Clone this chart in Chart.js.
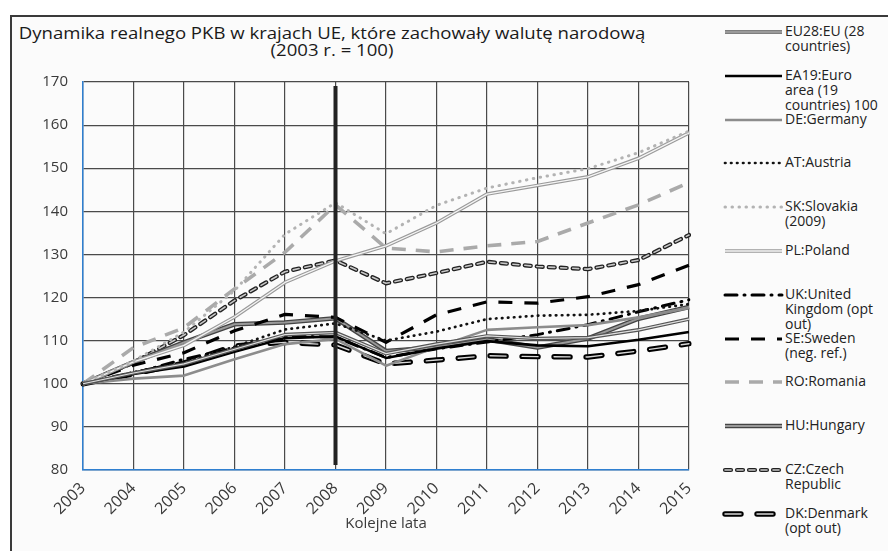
<!DOCTYPE html>
<html>
<head>
<meta charset="utf-8">
<script src="https://cdn.jsdelivr.net/npm/chart.js@4"></script>
<style>
  body{margin:0;background:#fff;width:888px;height:551px;overflow:hidden;position:relative;font-family:"Open Sans",sans-serif;}
  #frame{position:absolute;left:10px;top:15px;width:900px;height:560px;border:2px solid #3a3a3a;background:#fbfbfb;}
  #title{position:absolute;left:0;top:25px;width:664px;text-align:center;font-size:16px;line-height:17px;color:#1a1a1a;transform:scaleX(1.16);transform-origin:332px 0;}
  #wrap{position:absolute;left:12px;top:17px;width:700px;height:534px;}
  #legend{position:absolute;left:722px;top:23px;width:166px;}
  .item{height:43.8px;display:flex;align-items:flex-start;}
  .item svg{flex:none;margin-top:2px;}
  .item div{font-size:14px;line-height:15px;color:#222;margin-left:1px;white-space:nowrap;}
</style>
</head>
<body>
<div id="frame"></div>
<div id="title">Dynamika realnego PKB w krajach UE, które zachowały walutę narodową<br>(2003 r. = 100)</div>
<div id="wrap"><canvas id="c"></canvas></div>
<div id="legend"></div>
<script>
// --- data
const years = ['2003','2004','2005','2006','2007','2008','2009','2010','2011','2012','2013','2014','2015'];
const yTicks = [80,90,100,110,120,130,140,150,160,170];

const eu28 = [100,102.5,104.6,108.0,111.4,111.9,107.0,109.2,111.1,110.5,110.7,112.5,115.0];
const ea19 = [100,102.3,104.0,107.4,110.6,111.0,106.0,108.2,109.9,108.9,108.7,110.2,112.0];
const de   = [100,101.2,101.9,105.7,109.2,110.4,104.2,108.5,112.5,113.1,113.6,115.4,117.6];
const at   = [100,102.7,105.0,108.6,112.6,114.0,110.0,112.1,115.0,115.8,116.0,116.9,118.5];
const sk   = [100,105.3,112.0,121.6,134.7,142.0,134.8,141.4,145.4,147.8,149.9,153.6,158.6];
const pl   = [100,105.1,108.9,115.5,123.5,128.5,132.0,137.3,144.0,146.0,148.0,152.3,158.2];
const uk   = [100,102.4,105.7,108.3,111.1,110.8,106.1,108.1,109.7,111.4,113.7,116.7,119.5];
const se   = [100,104.3,107.2,112.3,116.1,115.4,109.6,116.0,119.0,118.7,120.2,123.0,127.5];
const ro   = [100,108.4,113.0,122.0,130.5,141.5,131.5,130.6,132.0,133.0,137.3,141.5,146.7];
const hu   = [100,105.0,109.6,113.8,114.2,115.2,107.6,108.4,110.3,108.4,110.5,115.1,117.8];
const cz   = [100,104.9,111.3,119.3,126.0,128.6,123.3,125.7,128.3,127.2,126.6,128.7,134.5];
const dk   = [100,102.3,104.8,108.8,109.6,109.0,104.6,105.5,106.5,106.3,106.2,107.6,109.3];

const labels = [
  ['EU28:EU (28','countries)'],
  ['EA19:Euro','area (19','countries) 100'],
  ['DE:Germany'],
  ['AT:Austria'],
  ['SK:Slovakia','(2009)'],
  ['PL:Poland'],
  ['UK:United','Kingdom (opt','out)'],
  ['SE:Sweden','(neg. ref.)'],
  ['RO:Romania'],
  ['HU:Hungary'],
  ['CZ:Czech','Republic'],
  ['DK:Denmark','(opt out)']
];

// --- styles
const styles = [
  {color:'#555',width:3.6,dash:[],inner:{color:'#e0e0e0',width:1.2}},
  {color:'#000',width:2.6,dash:[]},
  {color:'#8c8c8c',width:2.6,dash:[]},
  {color:'#111',width:2.7,dash:[0.5,5.5],cap:'round'},
  {color:'#b3b3b3',width:3,dash:[0.5,6.5],cap:'round'},
  {color:'#9a9a9a',width:3.6,dash:[],inner:{color:'#f5f5f5',width:1.3}},
  {color:'#000',width:3,dash:[12,7,1,7],cap:'round'},
  {color:'#000',width:3.2,dash:[14,12]},
  {color:'#aaa',width:3.6,dash:[14,10]},
  {color:'#444',width:4.6,dash:[],inner:{color:'#999',width:2}},
  {color:'#222',width:4.2,dash:[6,6],cap:'round',inner:{color:'#c8c8c8',width:1.6}},
  {color:'#000',width:5.4,dash:[16,16],cap:'round',inner:{color:'#d8d8d8',width:1.4}}
];
const series = [eu28,ea19,de,at,sk,pl,uk,se,ro,hu,cz,dk];

const datasets = series.map((d,i)=>({
  label:labels[i].join(' '),
  data:d,
  borderColor:styles[i].color,
  borderWidth:styles[i].width,
  borderDash:styles[i].dash,
  borderCapStyle:styles[i].cap||'butt',
  borderJoinStyle:'round',
  inner:styles[i].inner,
  pointRadius:0,
  tension:0,
  fill:false
}));

// inner stroke for double / outlined lines
const innerLine = {
  id:'innerLine',
  afterDatasetDraw(chart,args){
    const ds = chart.data.datasets[args.index];
    if(!ds.inner) return;
    const pts = args.meta.data;
    const ctx = chart.ctx;
    ctx.save();
    ctx.strokeStyle = ds.inner.color;
    ctx.lineWidth = ds.inner.width;
    ctx.setLineDash(ds.borderDash);
    ctx.lineCap = ds.borderCapStyle;
    ctx.lineJoin = 'round';
    ctx.beginPath();
    pts.forEach((p,k)=>{ if(k===0) ctx.moveTo(p.x,p.y); else ctx.lineTo(p.x,p.y); });
    ctx.stroke();
    ctx.restore();
  }
};

// thick marker at 2008
const markYear = {
  id:'markYear',
  afterDatasetsDraw(chart){
    const x = chart.scales.x.getPixelForValue(years.indexOf('2008'));
    const a = chart.chartArea;
    const ctx = chart.ctx;
    ctx.save();
    ctx.strokeStyle = '#222';
    ctx.lineWidth = 4;
    ctx.beginPath();
    ctx.moveTo(x,a.top+4);
    ctx.lineTo(x,a.bottom-5);
    ctx.stroke();
    ctx.restore();
  }
};

const tickFont = {family:'"Open Sans", sans-serif',size:15};

new Chart(document.getElementById('c'),{
  type:'line',
  data:{labels:years,datasets:datasets},
  options:{
    responsive:true,
    maintainAspectRatio:false,
    animation:false,
    layout:{padding:{top:65,right:23,left:0,bottom:14}},
    plugins:{legend:{display:false},tooltip:{enabled:false}},
    scales:{
      x:{
        grid:{color:'#4a4a4a',lineWidth:1.2,drawTicks:false},
        border:{color:'#2f7fd0',width:1.5},
        ticks:{color:'#3a3a3a',font:{family:'"Open Sans", sans-serif',size:16},maxRotation:45,minRotation:45,padding:9},
        title:{display:true,text:'Kolejne lata',color:'#3a3a3a',font:tickFont,padding:{top:0}},
        afterFit(s){ s.height = 67; }
      },
      y:{
        min:80,max:170,
        afterBuildTicks(s){ s.ticks = yTicks.map(v=>({value:v})); },
        grid:{color:'#4a4a4a',lineWidth:1.2,drawTicks:false},
        border:{color:'#2f7fd0',width:1.5},
        ticks:{color:'#3a3a3a',font:tickFont,padding:15},
        afterFit(s){ s.width = 71; }
      }
    }
  },
  plugins:[innerLine,markYear]
});

// --- legend
const legend = document.getElementById('legend');
styles.forEach((st,i)=>{
  const item = document.createElement('div');
  item.className = 'item';
  const y = 7;
  let svg = `<svg width="62" height="14"><line x1="3" y1="${y}" x2="60" y2="${y}" stroke="${st.color}" stroke-width="${st.width}" stroke-dasharray="${st.dash.join(' ')}" stroke-linecap="${st.cap||'butt'}"/>`;
  if(st.inner) svg += `<line x1="3" y1="${y}" x2="60" y2="${y}" stroke="${st.inner.color}" stroke-width="${st.inner.width}" stroke-dasharray="${st.dash.join(' ')}" stroke-linecap="${st.cap||'butt'}"/>`;
  svg += '</svg>';
  item.innerHTML = svg + `<div>${labels[i].join('<br>')}</div>`;
  legend.appendChild(item);
});
</script>
</body>
</html>
